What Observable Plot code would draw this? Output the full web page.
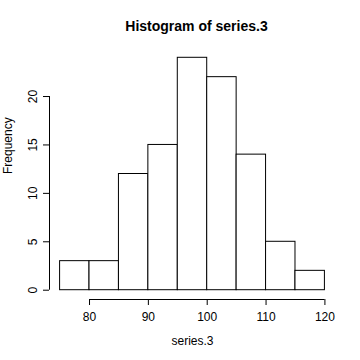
<!DOCTYPE html>
<html><head><meta charset="utf-8">
<script src="https://cdn.jsdelivr.net/npm/d3@7"></script>
<script src="https://cdn.jsdelivr.net/npm/@observablehq/plot@0.6"></script>
<style>body{margin:0;background:#fff}</style>
</head><body><div id="chart"></div>
<script>
const binStart = [75, 80, 85, 90, 95, 100, 105, 110, 115];
const binEnd   = [80, 85, 90, 95, 100, 105, 110, 115, 120];
const counts   = [3, 3, 12, 15, 24, 22, 14, 5, 2];
const xTicks = [80, 90, 100, 110, 120];
const yTicks = [0, 5, 10, 15, 20];
const title = "Histogram of series.3";
const xLabel = "series.3";
const yLabel = "Frequency";

const bins = binStart.map((s, i) => ({x1: s, x2: binEnd[i], y: counts[i]}));
const xMin = d3.min(binStart), xMax = d3.max(binEnd), yMax = d3.max(counts);
const xPad = (xMax - xMin) * 0.04, yPad = yMax * 0.04;
const xDomain = [xMin - xPad, xMax + xPad];
const yDomain = [-yPad, yMax + yPad];
const font = "'Liberation Sans', Arial, Helvetica, sans-serif";

const chart = Plot.plot({
  width: 360, height: 360,
  marginLeft: 49, marginRight: 25, marginTop: 48, marginBottom: 61,
  style: {fontFamily: font, fontSize: "12px", color: "black", background: "white"},
  x: {domain: xDomain, axis: null},
  y: {domain: yDomain, axis: null},
  marks: [
    Plot.rectY(bins, {x1: "x1", x2: "x2", y1: 0, y2: "y", fill: "white", stroke: "black", strokeWidth: 1}),
    Plot.ruleY([yDomain[0]], {x1: xTicks[0], x2: xTicks[xTicks.length - 1], stroke: "black"}),
    Plot.ruleX([xDomain[0]], {y1: yTicks[0], y2: yTicks[yTicks.length - 1], stroke: "black"}),
    Plot.axisX(xTicks, {anchor: "bottom", tickSize: 6, tickPadding: 7, fontSize: 12, label: null, stroke: "black", fill: "black"}),
    Plot.axisY(yTicks, {anchor: "left", tickSize: 6, tickPadding: 7, tickRotate: -90, fontSize: 12, label: null, stroke: "black", fill: "black", textAnchor: "middle", lineAnchor: "bottom"}),
    Plot.text([xLabel], {frameAnchor: "bottom", dy: 42, fontSize: 12, fill: "black", lineAnchor: "middle"}),
    Plot.text([yLabel], {frameAnchor: "left", dx: -41, rotate: -90, fontSize: 12, fill: "black", lineAnchor: "middle"}),
    Plot.text([title], {frameAnchor: "top", dy: -22, dx: 4, fontSize: 14, fontWeight: "bold", fill: "black", lineAnchor: "middle"})
  ]
});
document.getElementById("chart").appendChild(chart);
</script>
</body></html>
